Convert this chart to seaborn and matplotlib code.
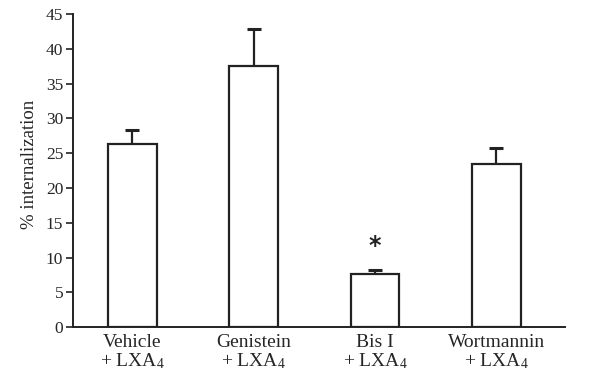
import matplotlib
matplotlib.use('Agg')
import matplotlib.pyplot as plt
import seaborn as sns
import pandas as pd

treatments = ['Vehicle\n+ LXA$_4$', 'Genistein\n+ LXA$_4$', 'Bis I\n+ LXA$_4$', 'Wortmannin\n+ LXA$_4$']
internalization = [26.3, 37.5, 7.7, 23.4]
sem = [2.0, 5.3, 0.5, 2.4]
significant = [False, False, True, False]

sns.set_style('ticks')
plt.rcParams['font.family'] = ['Liberation Serif', 'DejaVu Serif']
plt.rcParams['mathtext.fontset'] = 'custom'
plt.rcParams['mathtext.rm'] = 'Liberation Serif'
plt.rcParams['mathtext.it'] = 'Liberation Serif:italic'

df = pd.DataFrame({'treatment': treatments, 'value': internalization})

fig = plt.figure(figsize=(6, 3.79), dpi=100)
ax = fig.add_axes([0.1217, 0.137, 0.82, 0.826])

sns.barplot(data=df, x='treatment', y='value', color='white', edgecolor='#222222',
            linewidth=1.6, width=0.40, ax=ax)

# error bars only upwards
xs = [p.get_x() + p.get_width() / 2 for p in ax.patches]
eb = ax.errorbar(xs, internalization, yerr=[[0] * len(sem), sem], fmt='none',
                 ecolor='#222222', elinewidth=1.6, capsize=5, capthick=2.2)
eb[1][0].set_visible(False)  # no cap at bar top

for x, v, e, s in zip(xs, internalization, sem, significant):
    if s:
        ax.text(x, v + e + 3.5, '*', ha='center', va='center', fontsize=17,
                family='DejaVu Sans', fontweight='bold', color='#222222')

ax.set_ylim(0, 45)
ax.set_xlim(-0.49, 3.566)
ax.set_yticks(range(0, 46, 5))
ax.set_xlabel('')
ax.set_ylabel('% internalization', fontsize=13.5)
ax.yaxis.set_label_coords(-0.072, 0.52)
ax.tick_params(axis='y', labelsize=12.5, length=5, width=1.2, color='#222222', pad=2)
ax.tick_params(axis='x', labelsize=14, length=0, pad=5)
for lbl in ax.get_xticklabels():
    lbl.set_linespacing(1.0)
sns.despine(ax=ax)
for side in ['left', 'bottom']:
    ax.spines[side].set_linewidth(1.4)
    ax.spines[side].set_color('#222222')

fig.savefig('out.png', dpi=100)
